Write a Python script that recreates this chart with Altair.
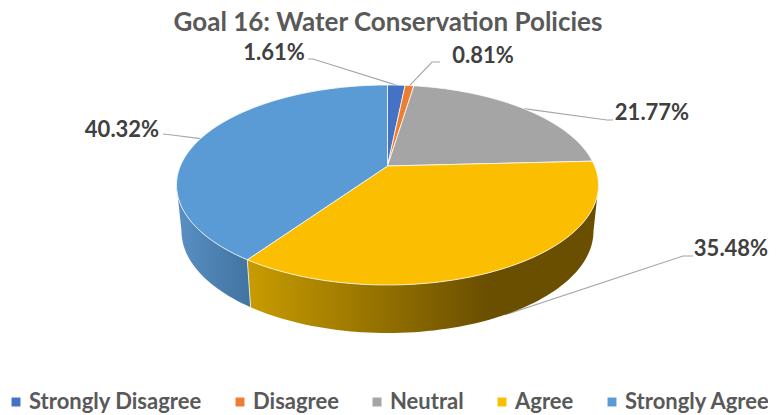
import math
import altair as alt
import pandas as pd

categories = ["Strongly Disagree", "Disagree", "Neutral", "Agree", "Strongly Agree"]
percent = [1.61, 0.81, 21.77, 35.48, 40.32]
colors = ["#4472c4", "#ed7d31", "#a5a5a5", "#fcbe00", "#5b9bd5"]
label_text = ["1.61%", "0.81%", "21.77%", "35.48%", "40.32%"]

# layout (page pixels)
CX, CY, RX, RY, K = 387.5, 185.0, 211.0, 100.0, 0.19
BCY, BRX, BRY = 231.0, 206.0, 102.0
PAD_TOP = 40
W, H = 760, 367
label_xy = [(274, 53), (483, 56), (652, 113), (731, 249), (122, 130)]
elbows = [[(313, 59), (308, 59)], [(432, 62), (440, 62)], [(607, 120), (613, 120)],
          [(683, 256), (693, 256)], [(172, 135), (163, 134)]]


def proj(theta_deg):
    t = math.radians(theta_deg)
    X, Y = math.sin(t), math.cos(t)
    d = 1 + K * Y
    return X * math.sqrt(1 - K * K) / d, (Y + K) / d


def top(theta):
    x, y = proj(theta)
    return CX + RX * x, CY - RY * y


def bottom(theta):
    x, y = proj(theta)
    return CX + BRX * x, BCY - BRY * y


cum = [0.0]
for p in percent:
    cum.append(cum[-1] + p)
total = cum[-1]
angles = [c / total * 360 for c in cum]
right_sil = math.degrees(math.acos(-K))
left_sil = 360 - right_sil

# top faces
rows = []
for c, a0, a1 in zip(categories, angles[:-1], angles[1:]):
    pts = [(CX, CY - RY * K)]
    n = max(4, int((a1 - a0) / 1.5))
    pts += [top(a0 + (a1 - a0) * i / n) for i in range(n + 1)]
    pts.append(pts[0])
    rows += [{"cat": c, "x": x, "y": y, "i": i} for i, (x, y) in enumerate(pts)]
faces = pd.DataFrame(rows)


def wall(a0, a1):
    n = max(4, int(abs(a1 - a0) / 1.5))
    th = [a0 + (a1 - a0) * i / n for i in range(n + 1)]
    pts = [top(t) for t in th] + [bottom(t) for t in reversed(th)]
    pts.append(pts[0])
    return pd.DataFrame([{"x": x, "y": y, "i": i} for i, (x, y) in enumerate(pts)])


boundary = angles[4]
xs = alt.X("x:Q", scale=alt.Scale(domain=[8, 8 + W], range=[0, W], nice=False, zero=False), axis=None)
ys = alt.Y("y:Q", scale=alt.Scale(domain=[8 + PAD_TOP, 8 + PAD_TOP + H], range=[0, H], nice=False, zero=False), axis=None)


def gradient(stops):
    return alt.LinearGradient(
        gradient="linear", x1=0, x2=1, y1=0, y2=0,
        stops=[alt.GradientStop(offset=o, color=c) for o, c in stops],
    )


yellow_wall = alt.Chart(wall(right_sil, boundary)).mark_line(
    strokeWidth=0,
    fill=gradient([(0, "#c89c00"), (0.68, "#6a4f00"), (1, "#6a4f00")]),
).encode(x=xs, y=ys, order="i:Q")

blue_wall = alt.Chart(wall(boundary, left_sil)).mark_line(
    strokeWidth=0,
    fill=gradient([(0, "#5a90c6"), (1, "#41739f")]),
).encode(x=xs, y=ys, order="i:Q")

p0, p1 = top(boundary), bottom(boundary)
separator = alt.Chart(pd.DataFrame([
    {"x": p0[0], "y": p0[1], "i": 0}, {"x": p1[0], "y": p1[1], "i": 1},
])).mark_line(color="#dfe6ea", strokeWidth=1).encode(x=xs, y=ys, order="i:Q")

top_faces = alt.Chart(faces).mark_line(
    stroke="#ffffff", strokeWidth=1, strokeOpacity=0.75, strokeJoin="round",
).encode(
    x=xs, y=ys, order="i:Q",
    fill=alt.Fill(
        "cat:N",
        scale=alt.Scale(domain=categories, range=colors),
        legend=alt.Legend(
            title=None, orient="none", legendX=-3, legendY=343, direction="horizontal",
            columns=5, symbolType="square", symbolSize=80, symbolStrokeWidth=0,
            labelFont="Lato", labelFontWeight="bold", labelFontSize=22, labelColor="#595959",
            columnPadding=27, labelOffset=2, labelLimit=300, padding=0,
        ),
    ),
)

lead_rows = []
for n, (cat, a0, a1, el) in enumerate(zip(categories, angles[:-1], angles[1:], elbows)):
    mid = (a0 + a1) / 2
    start = bottom(mid) if n == 3 else top(mid)
    for i, (x, y) in enumerate([start] + el):
        lead_rows.append({"cat": cat, "x": x, "y": y, "i": i})
leaders = alt.Chart(pd.DataFrame(lead_rows)).mark_line(
    color="#a6a6a6", strokeWidth=1.2
).encode(x=xs, y=ys, order="i:Q", detail="cat:N")

labels = alt.Chart(pd.DataFrame({
    "t": label_text, "x": [p[0] for p in label_xy], "y": [p[1] for p in label_xy],
})).mark_text(
    font="Lato", fontWeight="bold", fontSize=22, color="#404040", baseline="middle", align="center",
).encode(x=xs, y=ys, text="t:N")

chart = alt.layer(leaders, yellow_wall, blue_wall, separator, top_faces, labels).properties(
    width=W, height=H,
    padding={"left": 0, "right": 0, "top": PAD_TOP, "bottom": 0},
    autosize=alt.AutoSizeParams(type="none"),
    title=alt.TitleParams(
        "Goal 16: Water Conservation Policies", font="Lato", fontWeight="bold", fontSize=26,
        color="#595959", anchor="middle", offset=6,
    ),
).configure_view(stroke=None)

chart.save("out.html", embed_options={"renderer": "svg", "actions": False})
